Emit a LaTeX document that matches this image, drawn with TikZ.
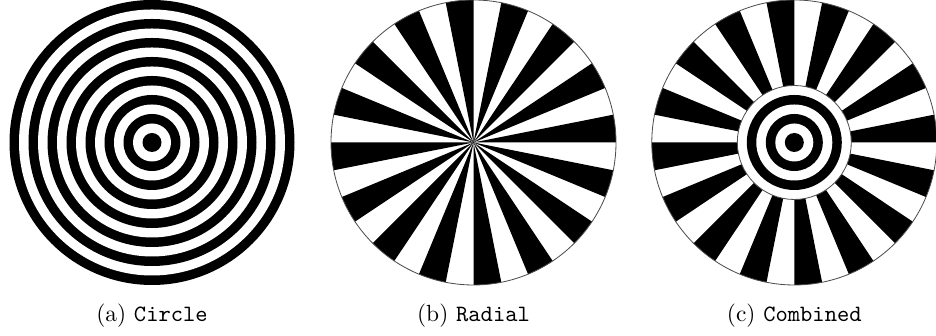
\documentclass[tikz,border=0pt]{standalone}
\tikzset{
  outline/.style={draw=black!70, line width=0.35pt},
  caption/.style={anchor=base, inner sep=0pt, font=\normalsize}
}
\begin{document}
\begin{tikzpicture}[x=0.42735pt,y=0.42735pt]
\useasboundingbox (0,0) rectangle (936,336);
\def\bw{9.5}
\def\R{142.5}
% (a) Circle
\begin{scope}[shift={(152,193.5)}]
  \foreach \i in {15,13,...,3}{
    \fill[black] (0,0) circle[radius={\i*\bw}];
    \fill[white] (0,0) circle[radius={(\i-1)*\bw}];
  }
  \fill[black] (0,0) circle[radius=\bw];
\end{scope}
% (b) Radial
\begin{scope}[shift={(473.5,193.5)}]
  \fill[white] (0,0) circle[radius=\R];
  \foreach \k in {0,...,15}{
    \fill[black] (0,0) -- ({\k*22.5}:\R) arc[start angle={\k*22.5}, delta angle=11.25, radius=\R] -- cycle;
  }
  \path[outline] (0,0) circle[radius=\R];
\end{scope}
% (c) Combined
\begin{scope}[shift={(794.3,193.5)}]
  \fill[white] (0,0) circle[radius=\R];
  \foreach \k in {0,...,15}{
    \fill[black] (0,0) -- ({\k*22.5}:\R) arc[start angle={\k*22.5}, delta angle=11.25, radius=\R] -- cycle;
  }
  \path[outline] (0,0) circle[radius=\R];
  \fill[white] (0,0) circle[radius={6*\bw}];
  \foreach \i in {5,3}{
    \fill[black] (0,0) circle[radius={\i*\bw}];
    \fill[white] (0,0) circle[radius={(\i-1)*\bw}];
  }
  \fill[black] (0,0) circle[radius=\bw];
  \path[outline] (0,0) circle[radius={6*\bw}];
\end{scope}
% captions
\node[caption] (capa) at (152,14) {(a) \texttt{Circle}};
\node[caption] (capb) at (473.5,14) {(b) \texttt{Radial}};
\node[caption] (capc) at (794.3,14) {(c) \texttt{Combined}};
\end{tikzpicture}
\end{document}
